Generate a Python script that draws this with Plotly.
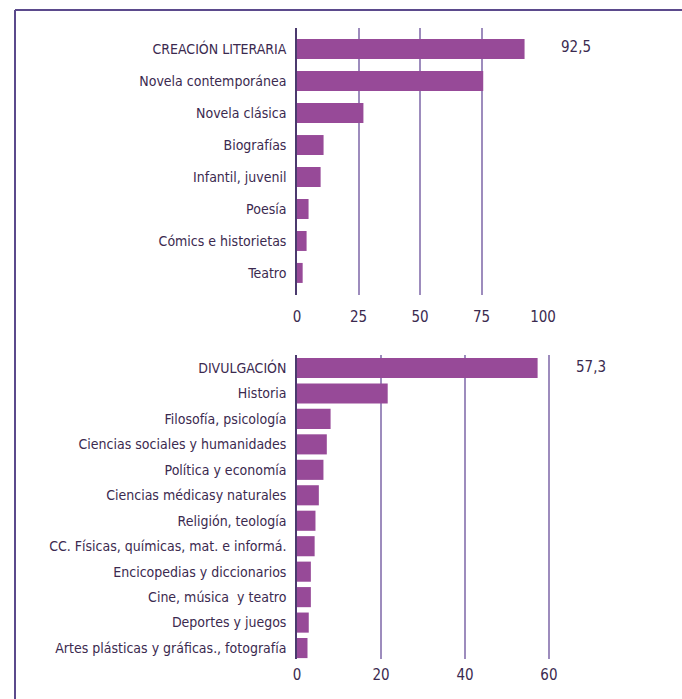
import plotly.graph_objects as go

# ---------------------------------------------------------------------------
# Data
# ---------------------------------------------------------------------------

creacion_labels = [
    "CREACIÓN LITERARIA",
    "Novela contemporánea",
    "Novela clásica",
    "Biografías",
    "Infantil, juvenil",
    "Poesía",
    "Cómics e historietas",
    "Teatro",
]
creacion_values = [92.5, 75.7, 27.0, 10.8, 9.6, 4.7, 3.9, 2.3]

divulgacion_labels = [
    "DIVULGACIÓN",
    "Historia",
    "Filosofía, psicología",
    "Ciencias sociales y humanidades",
    "Política y economía",
    "Ciencias médicasy naturales",
    "Religión, teología",
    "CC. Físicas, químicas, mat. e informá.",
    "Encicopedias y diccionarios",
    "Cine, música  y teatro",
    "Deportes y juegos",
    "Artes plásticas y gráficas., fotografía",
]
divulgacion_values = [57.3, 21.6, 8.0, 7.1, 6.3, 5.2, 4.4, 4.2, 3.3, 3.3, 2.8, 2.5]

creacion_ticks = [0, 25, 50, 75, 100]
divulgacion_ticks = [0, 20, 40, 60]

# ---------------------------------------------------------------------------
# Styling
# ---------------------------------------------------------------------------

W, H = 682, 699
BAR_COLOR = "#974a98"
GRID_COLOR = "#9d8cbd"
AXIS_COLOR = "#4b3a6e"
TEXT_COLOR = "#3b2a4f"
FRAME_COLOR = "#5b4a8c"
FONT = "DejaVu Sans Condensed, Liberation Sans, sans-serif"


def px_x(p):
    return p / W


def px_y(p):
    return 1 - p / H


fig = go.Figure()

fig.add_trace(
    go.Bar(
        x=creacion_values,
        y=creacion_labels,
        orientation="h",
        width=0.625,
        marker={"color": BAR_COLOR, "line": {"width": 0}},
        xaxis="x",
        yaxis="y",
        hoverinfo="x+y",
    )
)
fig.add_trace(
    go.Bar(
        x=divulgacion_values,
        y=divulgacion_labels,
        orientation="h",
        width=0.79,
        marker={"color": BAR_COLOR, "line": {"width": 0}},
        xaxis="x2",
        yaxis="y2",
        hoverinfo="x+y",
    )
)

xcommon = dict(
    automargin=False,
    showgrid=True,
    gridcolor=GRID_COLOR,
    gridwidth=1.5,
    zeroline=False,
    showline=False,
    ticks="outside",
    tickcolor="rgba(0,0,0,0)",
    tickfont={"size": 15, "color": TEXT_COLOR},
)
ycommon = dict(
    type="category",
    automargin=False,
    showgrid=False,
    zeroline=False,
    showline=True,
    linecolor=AXIS_COLOR,
    linewidth=1.5,
    ticks="outside",
    ticklen=6,
    tickcolor="rgba(0,0,0,0)",
    tickfont={"size": 14, "color": TEXT_COLOR},
)

fig.update_layout(
    template="none",
    width=W,
    height=H,
    autosize=False,
    margin={"l": 0, "r": 0, "t": 0, "b": 0, "pad": 0},
    paper_bgcolor="white",
    plot_bgcolor="white",
    showlegend=False,
    font={"family": FONT, "color": TEXT_COLOR, "size": 15},
    xaxis=dict(
        xcommon,
        domain=[px_x(297), px_x(544)],
        range=[0, 100.4],
        tickvals=creacion_ticks,
        ticklen=8,
        anchor="y",
    ),
    yaxis=dict(
        ycommon,
        domain=[px_y(295), px_y(28)],
        range=[7.69, -0.66],
        anchor="x",
    ),
    xaxis2=dict(
        xcommon,
        domain=[px_x(297), px_x(550)],
        range=[0, 60.25],
        tickvals=divulgacion_ticks,
        ticklen=2,
        anchor="y2",
    ),
    yaxis2=dict(
        ycommon,
        domain=[px_y(659), px_y(355)],
        range=[11.43, -0.51],
        anchor="x2",
    ),
)

# value labels sit outside the plotting area, right of the last gridline
fig.add_annotation(
    x=px_x(576), y=px_y(47), xref="paper", yref="paper",
    xanchor="center", yanchor="middle",
    text="92,5", showarrow=False,
    font={"size": 15, "color": TEXT_COLOR},
)
fig.add_annotation(
    x=px_x(591), y=px_y(367), xref="paper", yref="paper",
    xanchor="center", yanchor="middle",
    text="57,3", showarrow=False,
    font={"size": 15, "color": TEXT_COLOR},
)

# outer frame (open to the right and bottom, as in the source page)
fig.add_shape(
    type="line", xref="paper", yref="paper",
    x0=px_x(15), x1=1, y0=px_y(10), y1=px_y(10),
    line={"color": FRAME_COLOR, "width": 2},
)
fig.add_shape(
    type="line", xref="paper", yref="paper",
    x0=px_x(15), x1=px_x(15), y0=0, y1=px_y(10),
    line={"color": FRAME_COLOR, "width": 2},
)

fig.write_html(
    "out.html",
    config={"displayModeBar": False},
    post_script="document.body.style.margin='0';document.body.style.overflow='hidden';",
)
